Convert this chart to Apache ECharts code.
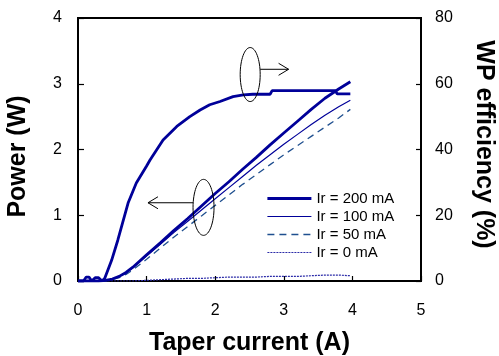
<!DOCTYPE html>
<html>
<head>
<meta charset="utf-8">
<script src="https://cdn.jsdelivr.net/npm/echarts@6/dist/echarts.min.js"></script>
<style>
  html, body { margin: 0; padding: 0; background: #fff; }
  #chart { width: 499px; height: 356px; }
</style>
</head>
<body>
<div id="chart"></div>
<script>
// Taper current (A) sampling for the power curves
const currentA = [0, 0.2, 0.3, 0.4, 0.5, 0.6, 0.7, 0.8, 1.0, 1.2, 1.4, 1.6, 1.8, 2.0, 2.2, 2.4, 2.6, 2.8, 3.0, 3.2, 3.4, 3.6, 3.8, 3.97];
// Output power (W) for each ridge current Ir
const power200 = [0, 0, 0, 0.01, 0.03, 0.07, 0.13, 0.21, 0.40, 0.58, 0.77, 0.95, 1.14, 1.33, 1.51, 1.70, 1.88, 2.07, 2.25, 2.43, 2.61, 2.78, 2.92, 3.03];
const power100 = [0, 0, 0, 0.01, 0.03, 0.07, 0.12, 0.20, 0.38, 0.56, 0.74, 0.91, 1.08, 1.25, 1.42, 1.59, 1.76, 1.92, 2.08, 2.23, 2.38, 2.52, 2.65, 2.75];
const power50  = [0, 0, 0, 0, 0.02, 0.05, 0.10, 0.17, 0.33, 0.50, 0.67, 0.83, 0.99, 1.15, 1.31, 1.47, 1.62, 1.77, 1.92, 2.06, 2.20, 2.34, 2.48, 2.61];
const power0   = [0, 0, 0, 0, 0, 0, 0, 0, 0.01, 0.02, 0.03, 0.04, 0.04, 0.05, 0.06, 0.06, 0.06, 0.07, 0.07, 0.07, 0.08, 0.09, 0.09, 0.08];

// Wall-plug efficiency (%) at Ir = 200 mA
const effCurrentA = [0, 0.08, 0.12, 0.16, 0.2, 0.25, 0.3, 0.35, 0.39, 0.49, 0.58, 0.73, 0.85, 1.0, 1.05, 1.24, 1.44, 1.63, 1.78, 1.92, 2.07, 2.26, 2.41, 2.55, 2.8, 2.83, 3.75, 3.78, 3.97];
const effPercent  = [0, 0, 1.2, 1.2, 0, 1.0, 1.0, 0, 0.8, 6.3, 12.4, 23.7, 29.8, 35.0, 36.8, 42.9, 47.0, 50.0, 52.0, 53.6, 54.6, 56.1, 56.6, 56.8, 56.8, 57.9, 57.9, 56.9, 56.9];

const legendNames = ['Ir = 200 mA', 'Ir = 100 mA', 'Ir = 50 mA', 'Ir = 0 mA'];
const xTicks = [0, 1, 2, 3, 4, 5];

const pairs = (xs, ys) => xs.map((x, i) => [x, ys[i]]);

const NAVY = '#000099';
const FONT = 'Liberation Sans, Arial, sans-serif';

const chart = echarts.init(document.getElementById('chart'), null, { renderer: 'canvas' });

const axisCommon = {
  axisLine: { show: true, lineStyle: { color: '#000', width: 2 } },
  axisTick: { show: true, inside: true, length: 6, lineStyle: { color: '#000', width: 1.2 } },
  axisLabel: { color: '#000', fontSize: 16, fontFamily: FONT },
  splitLine: { show: false },
  nameTextStyle: { color: '#000', fontSize: 25, fontWeight: 'bold', fontFamily: FONT }
};

chart.setOption({
  animation: false,
  backgroundColor: '#fff',
  grid: { left: 78, right: 78, top: 18, bottom: 75, containLabel: false, outerBoundsMode: 'none',
          show: true, borderColor: '#000', borderWidth: 2, backgroundColor: 'transparent' },
  legend: {
    data: legendNames,
    orient: 'vertical',
    left: 261,
    top: 186,
    itemWidth: 44,
    itemHeight: 14,
    itemGap: 3,
    itemStyle: { opacity: 0 },
    lineStyle: { width: 'inherit' },
    textStyle: { color: '#000', fontSize: 15, fontFamily: FONT },
    selectedMode: false
  },
  xAxis: Object.assign({}, axisCommon, {
    type: 'value', min: xTicks[0], max: xTicks[xTicks.length - 1], interval: 1,
    name: 'Taper current (A)', nameLocation: 'middle', nameGap: 50,
    axisLabel: Object.assign({}, axisCommon.axisLabel, { margin: 22 }),
    axisTick: Object.assign({}, axisCommon.axisTick, { length: 5 })
  }),
  yAxis: [
    Object.assign({}, axisCommon, {
      type: 'value', min: 0, max: 4, interval: 1, position: 'left',
      name: 'Power (W)', nameLocation: 'middle', nameGap: 47, nameRotate: 90,
      nameTextStyle: Object.assign({}, axisCommon.nameTextStyle, { padding: [0, 14, 0, 0] }),
      axisLabel: Object.assign({}, axisCommon.axisLabel, { margin: 16 })
    }),
    Object.assign({}, axisCommon, {
      type: 'value', min: 0, max: 80, interval: 20, position: 'right',
      name: 'WP efficiency (%)', nameLocation: 'middle', nameGap: 50, nameRotate: -90,
      nameTextStyle: Object.assign({}, axisCommon.nameTextStyle, { padding: [0, 10, 0, 0] }),
      axisLabel: Object.assign({}, axisCommon.axisLabel, { margin: 14 }),
      axisTick: Object.assign({}, axisCommon.axisTick, { length: 5 })
    })
  ],
  series: [
    { name: 'Ir = 200 mA', type: 'line', yAxisIndex: 0, symbol: 'none', data: pairs(currentA, power200),
      lineStyle: { color: NAVY, width: 2.8 }, itemStyle: { color: NAVY }, z: 5 },
    { name: 'Ir = 100 mA', type: 'line', yAxisIndex: 0, symbol: 'none', data: pairs(currentA, power100),
      lineStyle: { color: NAVY, width: 1.2 }, itemStyle: { color: NAVY }, z: 4 },
    { name: 'Ir = 50 mA', type: 'line', yAxisIndex: 0, symbol: 'none', data: pairs(currentA, power50),
      lineStyle: { color: '#1f4f8f', width: 1.3, type: [7, 5] }, itemStyle: { color: '#1f4f8f' }, z: 3 },
    { name: 'Ir = 0 mA', type: 'line', yAxisIndex: 0, symbol: 'none', data: pairs(currentA, power0),
      lineStyle: { color: '#2b2ba8', width: 1.2, type: [2, 1] }, itemStyle: { color: '#2b2ba8' }, z: 3 },
    { name: 'WP efficiency', type: 'line', yAxisIndex: 1, symbol: 'none', data: pairs(effCurrentA, effPercent),
      lineStyle: { color: NAVY, width: 2.8 }, itemStyle: { color: NAVY }, z: 5 }
  ]
});

// Ellipse + arrow call-outs tying each curve group to its axis
function callout(center, rx, ry, arrowEnd, side) {
  const c = chart.convertToPixel({ xAxisIndex: 0, yAxisIndex: 0 }, center);
  const e = chart.convertToPixel({ xAxisIndex: 0, yAxisIndex: 0 }, arrowEnd);
  const startX = c[0] + side * rx;
  const head = 10 * side;
  return [
    { type: 'ellipse', shape: { cx: c[0], cy: c[1], rx: rx, ry: ry },
      style: { fill: 'none', stroke: '#000', lineWidth: 1 }, z: 100 },
    { type: 'polyline', shape: { points: [[startX, e[1]], [e[0], e[1]]] },
      style: { fill: 'none', stroke: '#000', lineWidth: 1 }, z: 100 },
    { type: 'polyline', shape: { points: [[e[0] - head, e[1] - 6], [e[0], e[1]], [e[0] - head, e[1] + 6]] },
      style: { fill: 'none', stroke: '#000', lineWidth: 1 }, z: 100 }
  ];
}

chart.setOption({
  graphic: [].concat(
    callout([2.51, 3.14], 10, 27, [3.07, 3.22], 1),
    callout([1.83, 1.12], 10.5, 28, [1.02, 1.19], -1)
  )
});
</script>
</body>
</html>
